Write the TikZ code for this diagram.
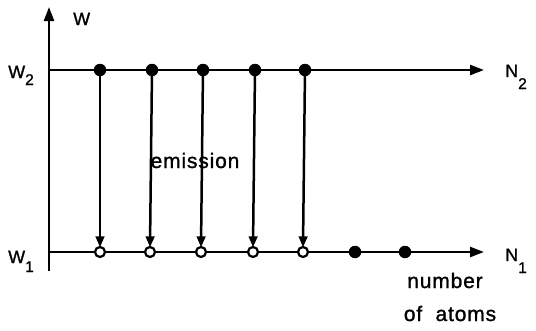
\documentclass[tikz,border=0pt]{standalone}
\usepackage{fontspec}
\setmainfont[FakeBold=1.2]{Liberation Sans}
\usetikzlibrary{arrows.meta}
\newcommand{\capsz}{\fontsize{18}{21}\selectfont}
\newcommand{\subsz}{\fontsize{15.5}{17}\selectfont}
\begin{document}
\begin{tikzpicture}[x=1pt,y=-1pt,
  axis/.style={line width=2.5pt,-{Triangle[length=14pt,width=10pt]}},
  emit/.style={line width=2.5pt,-{Triangle[length=11pt,width=8.5pt]}},
  full/.style={circle,fill=black,inner sep=0pt,minimum size=12.5pt},
  empty/.style={circle,draw=black,fill=white,line width=2.2pt,inner sep=0pt,minimum size=10pt},
  caplab/.style={font=\capsz,inner sep=0pt,anchor=base west},
  lab/.style={font=\fontsize{21}{24}\selectfont\addfontfeature{LetterSpace=4},inner sep=0pt,anchor=base}]
\useasboundingbox (0,0) rectangle (536,330);
% axes
\coordinate (o) at (49,271);
\coordinate (top) at (49,7);
\draw[axis] (o) -- (top);
\coordinate (l2) at (48,70);
\coordinate (r2) at (484,70);
\coordinate (l1) at (48,252);
\coordinate (r1) at (484,252);
\draw[axis] (l2) -- (r2);
\draw[axis] (l1) -- (r1);
% upper dots
\foreach \i/\x in {1/100,2/152,3/203,4/255,5/305}{
  \node[full] (u\i) at (\x,70) {};
}
% lower dots
\foreach \i/\x in {1/100,2/150,3/201,4/253,5/303}{
  \node[empty] (d\i) at (\x,252) {};
}
\node[full] (d6) at (355,252) {};
\node[full] (d7) at (405,252) {};
% emission arrows
\foreach \i in {1,...,5}{
  \draw[emit] ([yshift=7pt]u\i.south) -- ([yshift=-1.5pt]d\i.north);
}
% labels
\node[caplab] (w) at (73,25) {W};
\node[caplab] (w2) at (8,78) {W\raisebox{-7pt}{\subsz 2}};
\node[caplab] (w1) at (8,263) {W\raisebox{-9pt}{\subsz 1}};
\node[caplab] (n2) at (505,77) {N\raisebox{-12pt}{\subsz 2}};
\node[caplab] (n1) at (505,261) {N\raisebox{-12pt}{\subsz 1}};
\node[lab] (em) at (195,168) {emission};
\node[lab] (num) at (445,288) {number};
\node[lab] (atoms) at (450,321) {of\ \ atoms};
\end{tikzpicture}
\end{document}
